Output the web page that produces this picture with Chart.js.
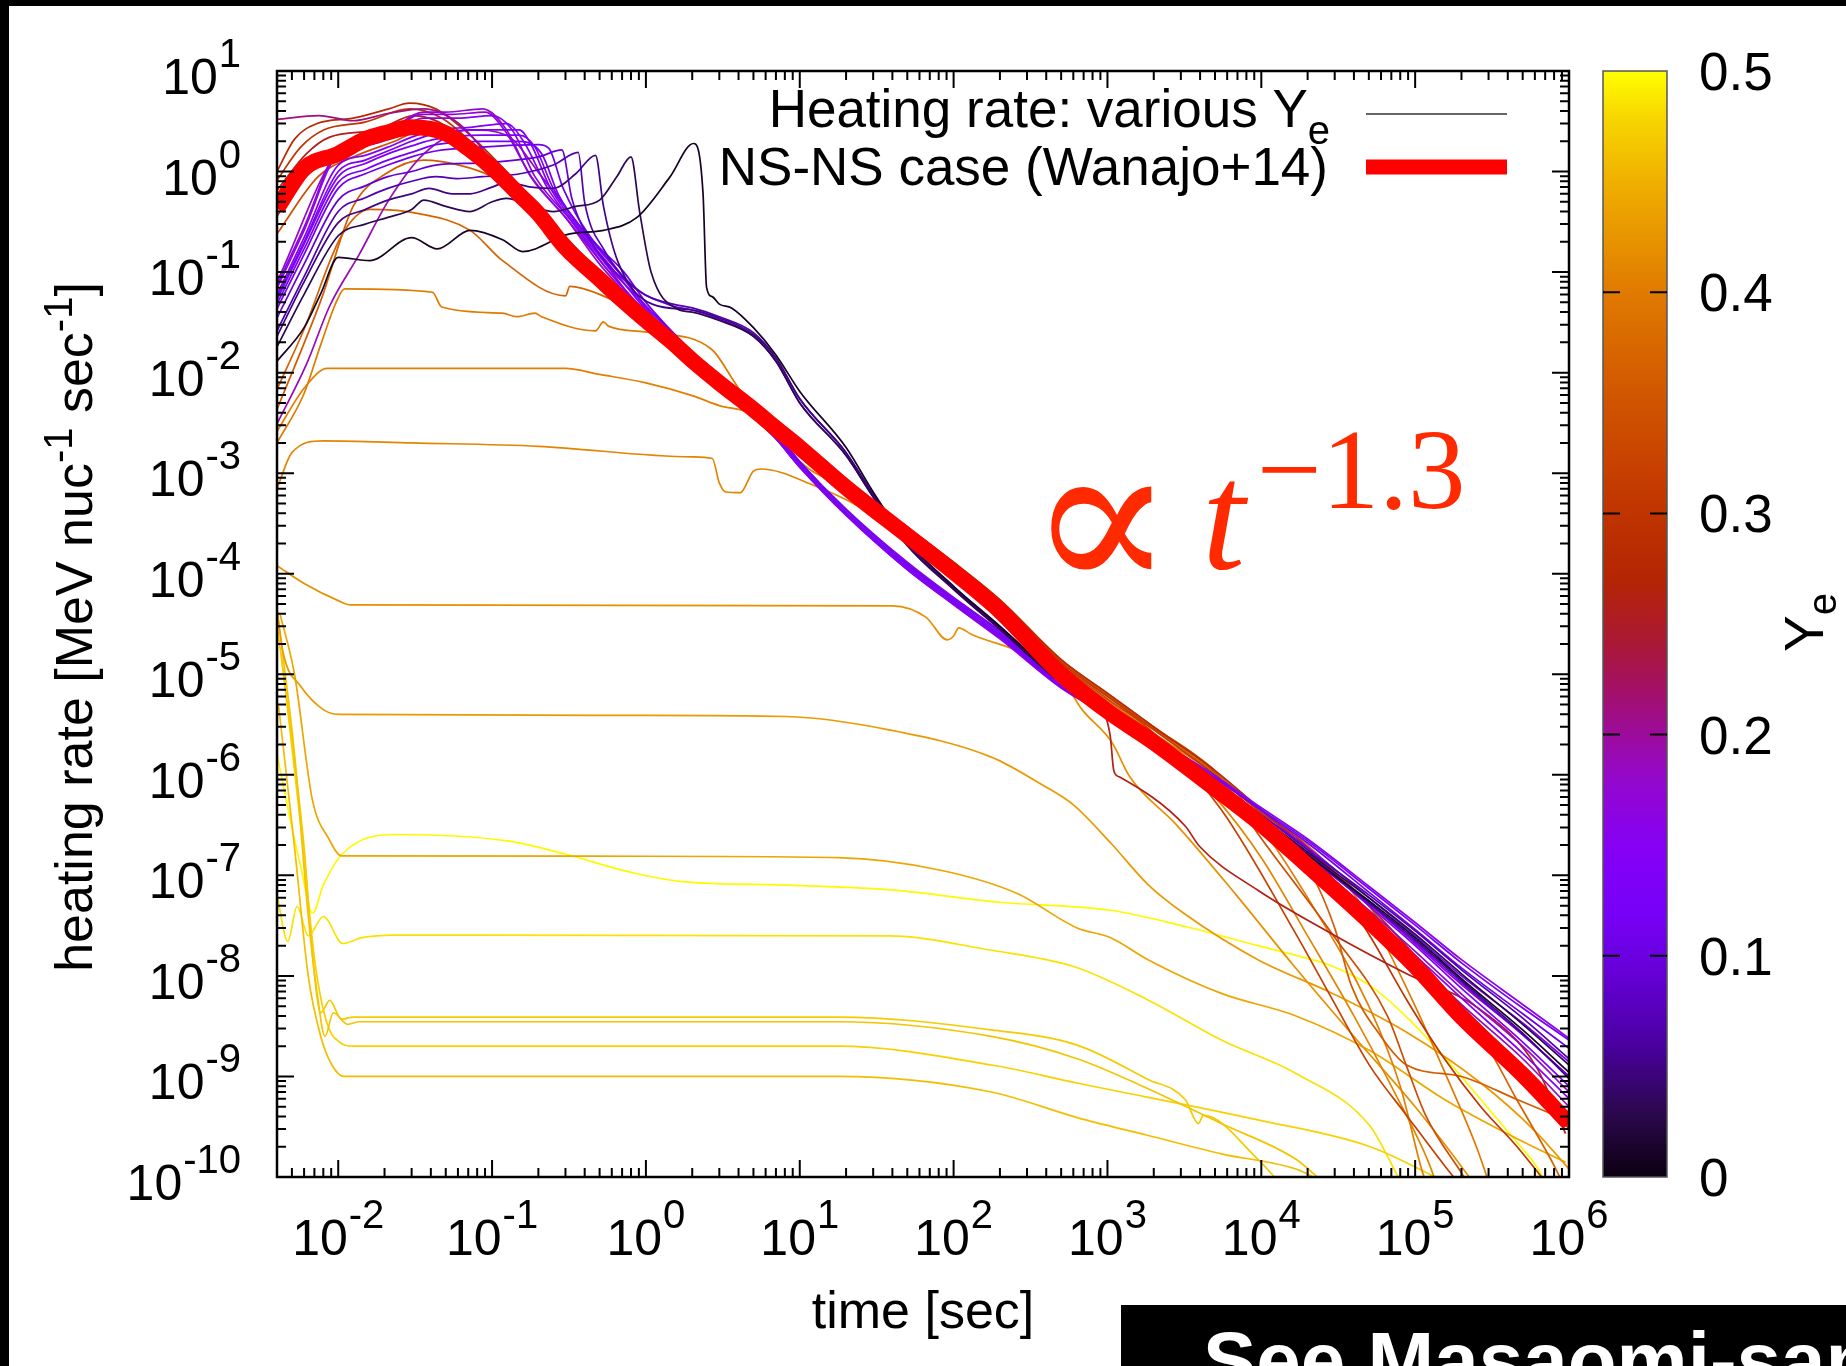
<!DOCTYPE html>
<html><head><meta charset="utf-8">
<script src="https://cdn.jsdelivr.net/npm/chart.js@4.4.1/dist/chart.umd.min.js"></script>
<style>
html,body{margin:0;padding:0;background:#fff;}
body{width:1846px;height:1366px;position:relative;overflow:hidden;}
#wrap{position:absolute;left:0;top:0;width:1846px;height:1366px;}
</style></head>
<body><div id="wrap"><canvas id="c"></canvas></div>
<script>
// ---------------- data (time in s, heating rate in MeV/nuc/s) ----------------
const xTickExps = [-2,-1,0,1,2,3,4,5,6];
const yTickExps = [1,0,-1,-2,-3,-4,-5,-6,-7,-8,-9,-10];
const cbTickValues = [0,0.1,0.2,0.3,0.4,0.5];
const cbTickLabels = ['0','0.1','0.2','0.3','0.4','0.5'];

const nsnsTime = [0.004,0.006,0.01,0.015,0.02,0.03,0.05,0.07,0.1,0.15,0.2,0.3,0.5,0.7,1,1.5,2,3,5,7,10,20,50,100,200,500,1e3,2e3,5e3,1e4,2e4,5e4,1e5,2e5,5e5,1e6];
const nsnsRate = [0.43,1.07,1.5,2.1,2.4,2.75,2.4,1.7,1.09,0.59,0.38,0.175,0.085,0.053,0.033,0.0197,0.0132,7.9e-3,4.3e-3,2.8e-3,1.8e-3,7.2e-4,2.4e-4,1.04e-4,4.25e-5,1.0e-5,4.3e-6,2.1e-6,7.3e-7,3.2e-7,1.25e-7,3.5e-8,1.25e-8,3.9e-9,1.04e-9,3.4e-10];

const curveYe010 = [[0.004,1.3e-2],[0.006,2.8e-2],[0.0077,6.1e-2],[0.01,0.14],[0.016,0.13],[0.03,0.22],[0.044,0.17],[0.072,0.26],[0.117,0.21],[0.158,0.16],[0.32,0.24],[0.53,0.26],[0.875,0.35],[1.43,0.88],[2.04,1.9],[2.35,0.61],[2.48,7e-2],[2.7,5.7e-2],[3,4.8e-2],[3.6,4.4e-2],[5,2.8e-2],[7,1.5e-2],[10,6.5e-3],[20,1.8e-3],[30,6.5e-4],[50,2.1e-4],[100,7.5e-5],[200,3e-5],[500,8.5e-6],[1e3,4.3e-6],[2e3,2.1e-6],[5e3,8e-7],[1e4,3.6e-7],[2e4,1.6e-7],[5e4,5.6e-8],[1e5,2.4e-8],[2e5,9.4e-9],[5e5,2.9e-9],[1e6,1.1e-9]];
const curveYe030 = [[0.004,1.8e-2],[0.006,6e-2],[0.01,0.23],[0.015,0.3],[0.021,0.35],[0.03,0.42],[0.036,0.52],[0.05,0.45],[0.072,0.4],[0.1,0.5],[0.124,0.54],[0.18,0.45],[0.25,0.4],[0.35,0.45],[0.5,0.52],[0.65,0.9],[0.8,1.4],[0.91,0.4],[1.08,0.1],[1.6,4.3e-2],[2,4e-2],[3,3.3e-2],[5,2.3e-2],[7,1.3e-2],[10,5e-3],[20,1.5e-3],[30,5.8e-4],[50,1.9e-4],[100,7e-5],[200,2.8e-5],[500,8.2e-6],[1e3,4.2e-6],[2e3,2.1e-6],[5e3,8.3e-7],[1e4,3.8e-7],[2e4,1.7e-7],[5e4,6e-8],[1e5,2.6e-8],[2e5,1.05e-8],[5e5,3.3e-9],[1e6,1.3e-9]];
const curveYe050 = [[0.004,2.3e-2],[0.006,8e-2],[0.01,0.31],[0.015,0.42],[0.021,0.52],[0.03,0.6],[0.039,0.68],[0.055,0.6],[0.072,0.6],[0.1,0.7],[0.124,0.78],[0.18,0.7],[0.25,0.68],[0.35,0.95],[0.47,1.45],[0.53,0.45],[0.66,0.125],[1.1,4.8e-2],[2,4.2e-2],[3,3.5e-2],[5,2.4e-2],[7,1.4e-2],[10,5.5e-3],[20,1.6e-3],[30,6e-4],[50,2e-4],[100,7.2e-5],[200,2.9e-5],[500,8.5e-6],[1e3,4.3e-6],[2e3,2.1e-6],[5e3,8e-7],[1e4,3.6e-7],[2e4,1.6e-7],[5e4,5.4e-8],[1e5,2.3e-8],[2e5,9e-9],[5e5,2.7e-9],[1e6,9.5e-10]];
const curveYe070 = [[0.004,2.6e-2],[0.006,9e-2],[0.01,0.4],[0.015,0.55],[0.021,0.68],[0.03,0.8],[0.043,0.89],[0.06,0.85],[0.087,0.89],[0.146,0.94],[0.25,1.16],[0.363,1.55],[0.4,0.49],[0.53,0.17],[0.93,6.3e-2],[1.5,4.8e-2],[2,4.4e-2],[3,3.6e-2],[5,2.5e-2],[7,1.4e-2],[10,5.5e-3],[20,1.6e-3],[30,6.2e-4],[50,2.1e-4],[100,7.4e-5],[200,3e-5],[500,8.6e-6],[1e3,4.4e-6],[2e3,2.2e-6],[5e3,8.6e-7],[1e4,4e-7],[2e4,1.8e-7],[5e4,6.4e-8],[1e5,2.8e-8],[2e5,1.15e-8],[5e5,3.8e-9],[1e6,1.5e-9]];
const curveYe090 = [[0.004,3.5e-2],[0.006,0.12],[0.01,0.52],[0.015,0.72],[0.021,0.89],[0.03,1.0],[0.043,1.16],[0.087,1.22],[0.2,1.4],[0.284,1.64],[0.33,0.54],[0.45,0.19],[0.86,6.8e-2],[1.5,4.6e-2],[2,4.2e-2],[3,3.4e-2],[5,2.3e-2],[7,1.3e-2],[10,5e-3],[20,1.5e-3],[30,5.8e-4],[50,2e-4],[100,7e-5],[200,2.8e-5],[500,8.3e-6],[1e3,4.2e-6],[2e3,2.05e-6],[5e3,7.8e-7],[1e4,3.5e-7],[2e4,1.55e-7],[5e4,5.2e-8],[1e5,2.2e-8],[2e5,8.6e-9],[5e5,2.6e-9],[1e6,1e-9]];
const curveYe110 = [[0.004,4.3e-2],[0.006,0.15],[0.01,0.68],[0.015,0.95],[0.021,1.16],[0.03,1.4],[0.043,1.6],[0.087,1.75],[0.2,1.85],[0.234,1.7],[0.29,0.68],[0.43,0.23],[0.72,0.1],[1,5e-2],[1.5,2.5e-2],[2,1.6e-2],[3,8.7e-3],[5,4.1e-3],[7,2.5e-3],[10,1.3e-3],[20,4.3e-4],[50,1.25e-4],[100,5.6e-5],[200,2.6e-5],[500,8.2e-6],[1e3,4.4e-6],[2e3,2.3e-6],[5e3,9.4e-7],[1e4,4.4e-7],[2e4,2.1e-7],[5e4,6.8e-8],[1e5,2.9e-8],[2e5,1.2e-8],[5e5,4.2e-9],[1e6,1.9e-9]];
const curveYe120 = [[0.004,4.8e-2],[0.006,0.17],[0.01,0.78],[0.015,1.05],[0.021,1.3],[0.03,1.55],[0.043,1.85],[0.087,2.0],[0.15,2.0],[0.21,1.5],[0.27,0.59],[0.41,0.24],[0.7,0.09],[1,4.6e-2],[1.5,2.4e-2],[2,1.55e-2],[3,8.4e-3],[5,3.9e-3],[7,2.4e-3],[10,1.25e-3],[20,4.1e-4],[50,1.2e-4],[100,5.4e-5],[200,2.5e-5],[500,8e-6],[1e3,4.3e-6],[2e3,2.2e-6],[5e3,9.2e-7],[1e4,4.5e-7],[2e4,2.2e-7],[5e4,7.4e-8],[1e5,3.2e-8],[2e5,1.35e-8],[5e5,4.8e-9],[1e6,2.3e-9]];
const curveYe130 = [[0.004,5.3e-2],[0.006,0.19],[0.01,0.89],[0.015,1.2],[0.021,1.5],[0.03,1.8],[0.043,2.1],[0.087,2.3],[0.15,2.3],[0.19,1.75],[0.25,0.68],[0.39,0.26],[0.61,0.12],[1,4.4e-2],[1.5,2.3e-2],[2,1.5e-2],[3,8.2e-3],[5,3.8e-3],[7,2.3e-3],[10,1.2e-3],[20,4e-4],[50,1.15e-4],[100,5.2e-5],[200,2.4e-5],[500,7.7e-6],[1e3,4.1e-6],[2e3,2.1e-6],[5e3,8.6e-7],[1e4,4e-7],[2e4,1.9e-7],[5e4,6e-8],[1e5,2.5e-8],[2e5,1e-8],[5e5,3.4e-9],[1e6,1.4e-9]];
const curveYe140 = [[0.004,5.6e-2],[0.006,0.2],[0.01,1.0],[0.015,1.3],[0.021,1.6],[0.03,2.0],[0.043,2.4],[0.08,2.6],[0.15,2.6],[0.178,1.9],[0.24,0.68],[0.37,0.27],[0.6,0.11],[1,4.2e-2],[1.5,2.2e-2],[2,1.45e-2],[3,8e-3],[5,3.7e-3],[7,2.3e-3],[10,1.2e-3],[20,4e-4],[50,1.15e-4],[100,5.2e-5],[200,2.4e-5],[500,7.6e-6],[1e3,4e-6],[2e3,2e-6],[5e3,8e-7],[1e4,3.6e-7],[2e4,1.65e-7],[5e4,5e-8],[1e5,2e-8],[2e5,7.5e-9],[5e5,2.2e-9],[1e6,8e-10]];
const curveYe150 = [[0.004,6e-2],[0.006,0.22],[0.01,1.16],[0.015,1.45],[0.021,1.75],[0.03,2.2],[0.043,2.6],[0.072,2.75],[0.124,3.0],[0.16,2.0],[0.23,0.68],[0.35,0.28],[0.55,0.11],[1,3.9e-2],[1.5,2.1e-2],[2,1.4e-2],[3,7.7e-3],[5,3.6e-3],[7,2.2e-3],[10,1.15e-3],[20,3.9e-4],[50,1.1e-4],[100,5e-5],[200,2.3e-5],[500,7.4e-6],[1e3,3.9e-6],[2e3,1.9e-6],[5e3,7.4e-7],[1e4,3.2e-7],[2e4,1.45e-7],[5e4,4.2e-8],[1e5,1.6e-8],[2e5,6e-9],[5e5,1.7e-9],[1e6,6e-10]];
const curveYe160 = [[0.004,6.9e-2],[0.006,0.26],[0.01,1.5],[0.015,1.8],[0.021,2.1],[0.036,3.4],[0.06,3.4],[0.1,3.6],[0.135,2.6],[0.19,0.89],[0.33,0.32],[0.55,0.12],[1,4.6e-2],[1.5,2.5e-2],[2,1.6e-2],[3,8.8e-3],[5,4.1e-3],[7,2.5e-3],[10,1.3e-3],[20,4.4e-4],[50,1.3e-4],[100,5.8e-5],[200,2.7e-5],[500,8.4e-6],[1e3,4.5e-6],[2e3,2.35e-6],[5e3,9.8e-7],[1e4,4.7e-7],[2e4,2.3e-7],[5e4,7.8e-8],[1e5,3.4e-8],[2e5,1.45e-8],[5e5,5.2e-9],[1e6,2.4e-9]];
const curveYe170 = [[0.004,7.4e-2],[0.006,0.28],[0.01,1.64],[0.015,2.0],[0.021,2.4],[0.035,3.7],[0.055,3.7],[0.09,3.9],[0.12,2.6],[0.18,0.89],[0.31,0.33],[0.55,0.11],[1,4e-2],[1.5,2.15e-2],[2,1.42e-2],[3,7.8e-3],[5,3.7e-3],[7,2.25e-3],[10,1.18e-3],[20,3.9e-4],[50,1.12e-4],[100,5e-5],[200,2.3e-5],[500,7.5e-6],[1e3,4e-6],[2e3,2e-6],[5e3,8.1e-7],[1e4,3.7e-7],[2e4,1.7e-7],[5e4,5.3e-8],[1e5,2.1e-8],[2e5,8.2e-9],[5e5,2.6e-9],[1e6,1e-9]];
const curveYe180 = [[0.004,8e-2],[0.0105,1.75],[0.0213,2.6],[0.036,3.9],[0.05,3.9],[0.087,4.2],[0.124,2.6],[0.178,0.89],[0.3,0.35],[0.5,0.12],[1,3.8e-2],[1.5,2.05e-2],[2,1.38e-2],[3,7.6e-3],[5,3.6e-3],[7,2.2e-3],[10,1.15e-3],[20,3.8e-4],[50,1.1e-4],[100,4.9e-5],[200,2.25e-5],[500,7.3e-6],[1e3,3.9e-6],[2e3,1.95e-6],[5e3,7.6e-7],[1e4,3.3e-7],[2e4,1.5e-7],[5e4,4.5e-8],[1e5,1.75e-8],[2e5,6.6e-9],[5e5,2e-9],[1e6,7e-10]];
const curveYe190 = [[0.004,3.1e-3],[0.0062,1.2e-2],[0.0088,4.6e-2],[0.0137,0.15],[0.0213,0.52],[0.036,1.5],[0.072,2.6],[0.124,2.3],[0.21,0.89],[0.36,0.3],[0.6,0.1],[1,3.7e-2],[1.5,2e-2],[2,1.35e-2],[3,7.5e-3],[5,3.6e-3],[7,2.2e-3],[10,1.15e-3],[20,3.9e-4],[50,1.15e-4],[100,5.2e-5],[200,2.4e-5],[500,7.6e-6],[1e3,4e-6],[2e3,1.95e-6],[5e3,7.3e-7],[1e4,3.1e-7],[2e4,1.35e-7],[5e4,3.9e-8],[1e5,1.45e-8],[2e5,5.2e-9],[5e5,1.5e-9],[1e6,5e-10]];
const curveYe210 = [[0.004,3.3],[0.0075,3.6],[0.0125,3.2],[0.0213,3.8],[0.036,4.2],[0.061,3.0],[0.1,1.3],[0.17,0.59],[0.3,0.2],[0.5,9e-2],[1,3.4e-2],[2,1.4e-2],[5,4.5e-3],[10,1.9e-3],[20,7.5e-4],[50,2.4e-4],[100,1.05e-4],[200,4.4e-5],[500,1.05e-5],[1e3,4.6e-6],[2e3,2.2e-6],[5e3,8e-7],[1e4,3.5e-7],[2e4,1.4e-7],[5e4,3.8e-8],[1e5,1.3e-8],[2e5,4.2e-9],[5e5,1.1e-9],[1e6,3.2e-10]];
const curveYe260 = [[0.004,0.65],[0.0062,1.5],[0.0088,2.2],[0.018,2.6],[0.031,3.6],[0.052,2.75],[0.087,1.3],[0.146,0.68],[0.25,0.3],[0.5,0.1],[1,3.7e-2],[2,1.5e-2],[5,4.8e-3],[10,2e-3],[20,8e-4],[50,2.7e-4],[100,1.2e-4],[200,5e-5],[500,1.2e-5],[800,5.5e-6],[1040,2.5e-6],[1100,1.1e-6],[1200,9.5e-7],[3200,3.1e-7],[3960,1.95e-7],[9500,7.1e-8],[2.9e4,2.6e-8],[8.8e4,1.05e-8],[2.67e5,4.6e-9],[6.1e5,1.26e-9],[9.5e5,2.7e-10]];
const curveYe280 = [[0.004,1.0],[0.0052,2.1],[0.0073,3.0],[0.0125,3.4],[0.0213,4.2],[0.029,4.8],[0.043,4.2],[0.072,2.3],[0.124,1.0],[0.21,0.42],[0.3,0.21],[0.5,0.1],[1,3.7e-2],[2,1.6e-2],[5,5e-3],[10,2.1e-3],[20,8.5e-4],[50,2.9e-4],[100,1.3e-4],[200,5.5e-5],[500,1.4e-5],[1e3,6.5e-6],[2e3,3e-6],[5e3,1.1e-6],[1e4,4.5e-7],[2e4,1.8e-7],[5e4,5e-8],[1e5,1.6e-8],[2e5,5e-9],[5e5,1.2e-9],[1e6,3e-10]];
const curveYe300 = [[0.004,0.82],[0.0057,1.75],[0.0081,2.6],[0.0149,3.1],[0.029,4.2],[0.047,3.4],[0.079,1.75],[0.124,0.89],[0.21,0.37],[0.3,0.2],[0.5,9.5e-2],[1,3.6e-2],[2,1.55e-2],[5,4.8e-3],[10,2.05e-3],[20,8.2e-4],[50,2.8e-4],[100,1.25e-4],[200,5.2e-5],[500,1.3e-5],[1e3,6e-6],[2e3,2.8e-6],[5e3,1e-6],[1e4,4.2e-7],[2e4,1.9e-7],[5e4,2.6e-8],[8.8e4,5.8e-9],[1.55e5,1.5e-9],[2.67e5,5e-10],[4.6e5,2e-10],[7e5,9e-11]];
const curveYe320 = [[0.004,0.36],[0.0067,1.16],[0.0105,1.75],[0.0213,2.3],[0.033,3.1],[0.056,2.3],[0.095,1.16],[0.16,0.52],[0.3,0.19],[0.5,9e-2],[1,3.5e-2],[2,1.5e-2],[5,4.7e-3],[10,2e-3],[20,8e-4],[50,2.7e-4],[100,1.2e-4],[200,5e-5],[500,1.25e-5],[1e3,5.7e-6],[2e3,2.6e-6],[5.5e3,4.5e-7],[1.68e4,2.6e-8],[2.9e4,5.8e-9],[5.1e4,1.26e-9],[8.8e4,4.1e-10],[1.55e5,1.3e-10],[2e5,8e-11]];
const curveYe340 = [[0.004,0.24],[0.0074,0.89],[0.0126,1.4],[0.0233,2.0],[0.036,2.6],[0.061,2.0],[0.1,0.94],[0.18,0.44],[0.3,0.2],[0.5,9.2e-2],[1,3.6e-2],[2,1.55e-2],[5,4.9e-3],[10,2.1e-3],[20,8.4e-4],[50,2.8e-4],[100,1.25e-4],[200,5.3e-5],[500,1.35e-5],[1e3,6.2e-6],[2e3,2.9e-6],[5e3,1.05e-6],[9.5e3,2.6e-7],[2.9e4,2.6e-8],[6.6e4,4e-9],[8.8e4,1.26e-9],[1.17e5,4.1e-10],[2e5,1.1e-10],[2.3e5,8e-11]];
const curveYe360 = [[0.004,4.3e-3],[0.0077,5.2e-2],[0.0125,0.45],[0.0206,0.96],[0.036,1.3],[0.061,1.16],[0.1,0.89],[0.21,0.4],[0.3,0.21],[0.5,0.1],[1,3.8e-2],[2,1.6e-2],[5,5e-3],[10,2.1e-3],[20,8.6e-4],[50,2.9e-4],[100,1.3e-4],[200,5.5e-5],[500,1.4e-5],[1e3,6.4e-6],[2e3,3e-6],[5e3,1.1e-6],[1e4,3.5e-7],[2e4,1.2e-7],[3e4,3e-8],[3.85e4,8e-9],[6e4,2.5e-9],[8.8e4,1.3e-9],[2e5,1e-9],[4.6e5,5.9e-10],[9.5e5,3.7e-10]];
const curveYe370 = [[0.004,6.8e-3],[0.006,2.7e-2],[0.0105,0.23],[0.016,0.42],[0.034,0.38],[0.072,0.26],[0.117,0.13],[0.3,5.8e-2],[0.32,7.2e-2],[0.5,6e-2],[1,3.4e-2],[2,1.5e-2],[5,4.7e-3],[10,2e-3],[20,8.2e-4],[50,2.8e-4],[100,1.25e-4],[200,5.3e-5],[500,1.35e-5],[1e3,6.2e-6],[2e3,2.9e-6],[5e3,1.05e-6],[1e4,4.4e-7],[2e4,1.8e-7],[5e4,5e-8],[1e5,1e-8],[2.67e5,2.5e-9],[4.6e5,5.8e-10],[8e5,1.3e-10],[9e5,9e-11]];
const curveYe400 = [[0.004,2e-3],[0.006,6.2e-3],[0.0077,1.9e-2],[0.0098,5.2e-2],[0.011,6.8e-2],[0.041,6.3e-2],[0.047,4.5e-2],[0.117,3.9e-2],[0.145,3.6e-2],[0.19,3.9e-2],[0.21,3.6e-2],[0.47,2.6e-2],[0.53,3.2e-2],[0.57,2.9e-2],[1.07,2.5e-2],[2.68,1.7e-2],[3.7,8.4e-3],[4.5,5.3e-3],[6.9,2.5e-3],[12,1.2e-3],[20,7.5e-4],[50,2.6e-4],[100,1.15e-4],[200,4.8e-5],[500,1.2e-5],[1e3,5.5e-6],[2e3,2.6e-6],[5e3,1e-6],[1e4,4.2e-7],[2e4,2e-7],[5e4,4e-8],[1e5,5e-9],[1.6e5,1e-9],[2.5e5,2e-10],[3e5,9e-11]];
const curveYe405 = [[0.004,2.6e-3],[0.006,7e-3],[0.0085,1.1e-2],[0.3,1.1e-2],[0.5,9.6e-3],[1,7.9e-3],[2,5.9e-3],[3,4.7e-3],[5,3.8e-3],[8,1.8e-3],[12,1.05e-3],[20,7.3e-4],[50,2.5e-4],[100,1.1e-4],[200,4.6e-5],[500,1.15e-5],[1e3,5.2e-6],[2e3,2.5e-6],[5e3,1e-6],[1e4,3e-7],[2e4,6e-8],[5e4,5e-9],[8e4,8e-10],[1.1e5,1.2e-10],[1.2e5,8e-11]];
const curveYe410 = [[0.004,7e-4],[0.005,1.6e-3],[0.008,2.1e-3],[0.03,2e-3],[0.2,1.85e-3],[2,1.45e-3],[2.7,1.4e-3],[3.0,8e-4],[3.3,6.5e-4],[4.1,6.4e-4],[5.0,1.05e-3],[5.6,1.1e-3],[12.7,7.4e-4],[24,4.7e-4],[50,2.3e-4],[100,1e-4],[200,4.4e-5],[500,1.1e-5],[1e3,5e-6],[2e3,2.3e-6],[5e3,6e-7],[1e4,1.5e-7],[2e4,2.5e-8],[4e4,4e-9],[7e4,8e-10],[1.2e5,1.5e-10],[1.4e5,8e-11]];
const curveYe420 = [[0.004,1.2e-4],[0.006,8e-5],[0.01,5.4e-5],[0.012,4.9e-5],[40,4.8e-5],[66,3.7e-5],[91,2.2e-5],[100,2.4e-5],[108,2.9e-5],[130,2.5e-5],[314,1.5e-5],[525,8.2e-6],[680,4.5e-6],[1070,2.1e-6],[1400,9.5e-7],[2800,3.2e-7],[6860,6.4e-8],[1.6e4,1.3e-8],[4e4,2.5e-9],[1e5,5e-10],[1.6e5,2e-10],[2.5e5,8e-11]];
const curveYe430 = [[0.004,4.4e-5],[0.0044,1.6e-5],[0.0057,7.6e-6],[0.0081,4.4e-6],[0.01,4e-6],[1,3.9e-6],[8.2,3.8e-6],[38,2.8e-6],[176,1.5e-6],[374,8e-7],[603,5e-7],[1050,2.1e-7],[1820,8.2e-8],[3200,4.1e-8],[9500,1.45e-8],[2.9e4,6.7e-9],[8.8e4,2.75e-9],[2.67e5,8.6e-10],[6.1e5,2.8e-10],[1e6,1.2e-10]];
const curveYe440 = [[0.0042,3.9e-5],[0.0052,1e-5],[0.0068,5.6e-7],[0.0087,2.3e-7],[0.0105,1.56e-7],[1,1.55e-7],[17.8,1.5e-7],[81,1.13e-7],[259,6.6e-8],[635,3e-8],[1050,2.4e-8],[1820,1.46e-8],[5500,6.7e-9],[1.68e4,4e-9],[5.1e4,1.8e-9],[1.55e5,5.9e-10],[4.6e5,2.4e-10],[9.5e5,1.4e-10]];
const curveYe460 = [[0.0041,4.8e-6],[0.0052,1.9e-7],[0.0064,9.7e-9],[0.0077,2.5e-9],[0.0091,1.3e-9],[0.0109,1e-9],[0.0125,1e-9],[17.8,1e-9],[176,7e-10],[635,3.9e-10],[1820,2.6e-10],[5500,1.7e-10],[1.68e4,1.2e-10],[2.5e4,9e-11]];
const curveYe465 = [[0.004,4.4e-5],[0.0052,1.6e-6],[0.0064,3.8e-8],[0.0074,5.7e-9],[0.0082,2.5e-9],[0.0093,4.3e-9],[0.0115,3.3e-9],[0.0137,3.5e-9],[17.8,3.5e-9],[176,2.5e-9],[635,1.5e-9],[1820,7.6e-10],[5500,3.4e-10],[1.68e4,1.5e-10],[2.5e4,9e-11]];
const curveYe470 = [[0.004,3.1e-5],[0.0047,4.8e-6],[0.006,1.9e-7],[0.0069,1.28e-8],[0.0077,4.3e-9],[0.0088,5.7e-9],[0.0105,3.7e-9],[0.0125,3.9e-9],[17.8,3.9e-9],[176,2.9e-9],[635,2.05e-9],[1820,9.4e-10],[3200,5.9e-10],[3900,3.4e-10],[4200,4.1e-10],[9500,1.5e-10],[1.3e4,9e-11]];
const curveYe475 = [[0.0043,1.4e-5],[0.0057,3.2e-7],[0.0071,1.28e-8],[0.0085,3.3e-9],[0.0102,2.2e-9],[0.0125,2e-9],[17.8,2e-9],[176,1.3e-9],[635,8.6e-10],[9500,3.7e-10],[5.1e4,2e-10],[1.55e5,9e-11]];
const curveYe485 = [[0.004,6.4e-8],[0.0047,2.2e-8],[0.0054,4.9e-8],[0.0064,2.5e-8],[0.008,3.9e-8],[0.0107,2.1e-8],[0.0142,2.4e-8],[0.0233,2.55e-8],[38,2.5e-8],[176,1.8e-8],[603,1.24e-8],[1820,5.8e-9],[5500,2.3e-9],[1.68e4,1.07e-9],[5.1e4,3.2e-10],[7.1e4,1.3e-10],[8e4,9e-11]];
const curveYe497 = [[0.004,1.6e-6],[0.0051,2.6e-7],[0.0057,1.23e-7],[0.0068,4.2e-8],[0.008,8e-8],[0.0107,1.65e-7],[0.0233,2.55e-7],[0.126,2.2e-7],[0.289,1.65e-7],[0.845,1.05e-7],[1.8,8.6e-8],[8.3,8e-8],[38,7.2e-8],[199,5.4e-8],[1050,4.5e-8],[3200,3.1e-8],[9500,2e-8],[1.68e4,1.6e-8],[2.9e4,1.25e-8],[5.1e4,8e-9],[8.8e4,3.9e-9],[1.55e5,1.56e-9],[2.67e5,5.9e-10],[4.6e5,2.2e-10],[6.1e5,1.3e-10],[7e5,9e-11]];

const yeValues = [0.01,0.03,0.05,0.07,0.09,0.11,0.12,0.13,0.14,0.15,0.16,0.17,0.18,0.19,0.21,0.26,0.28,0.30,0.32,0.34,0.36,0.37,0.40,0.405,0.41,0.42,0.43,0.44,0.46,0.465,0.47,0.475,0.485,0.497];
const yeCurves = [curveYe010,curveYe030,curveYe050,curveYe070,curveYe090,curveYe110,curveYe120,curveYe130,curveYe140,curveYe150,curveYe160,curveYe170,curveYe180,curveYe190,curveYe210,curveYe260,curveYe280,curveYe300,curveYe320,curveYe340,curveYe360,curveYe370,curveYe400,curveYe405,curveYe410,curveYe420,curveYe430,curveYe440,curveYe460,curveYe465,curveYe470,curveYe475,curveYe485,curveYe497];

// colour palette of the Ye colour bar
const paletteYe  = [0.00,0.03,0.06,0.09,0.12,0.15,0.18,0.20,0.22,0.24,0.27,0.30,0.35,0.40,0.45,0.48,0.50];
const paletteHex = ['#0c0010','#2c0850','#4a00a0','#6400d4','#7800f8','#8600f4','#9408cc','#9c0c9c','#a41068','#aa1838','#b42404','#c03400','#d05400','#e07a00','#f0b000','#f8d800','#ffff00'];

// ---------------- helpers ----------------
function hexRgb(h){return [parseInt(h.slice(1,3),16),parseInt(h.slice(3,5),16),parseInt(h.slice(5,7),16)];}
function yeColor(ye){
  for(let i=0;i<paletteYe.length-1;i++){
    if(ye<=paletteYe[i+1]){
      const f=(ye-paletteYe[i])/(paletteYe[i+1]-paletteYe[i]);
      const a=hexRgb(paletteHex[i]), b=hexRgb(paletteHex[i+1]);
      return 'rgb('+a.map((v,k)=>Math.round(v+(b[k]-v)*f)).join(',')+')';
    }
  }
  return paletteHex[paletteHex.length-1];
}
const toPts = arr => arr.map(p => ({x:p[0], y:p[1]}));

const datasets = [{
  label:'NS-NS case (Wanajo+14)',
  data: toPts(nsnsTime.map((t,i)=>[t,nsnsRate[i]])),
  borderColor:'#ff0000', borderWidth:16, pointRadius:0,
  tension:0.4, cubicInterpolationMode:'monotone', borderJoinStyle:'round'
}];
yeCurves.forEach((c,i)=>{
  datasets.push({
    label:'Ye='+yeValues[i], data: toPts(c),
    borderColor: yeColor(yeValues[i]), borderWidth:1.7, pointRadius:0,
    tension:0.4, cubicInterpolationMode:'monotone'
  });
});

const F = '"Liberation Sans", Arial, Helvetica, sans-serif';
const SERIF = '"Liberation Serif", "DejaVu Serif", serif';

function powWidth(ctx, exp){
  ctx.font = '50px '+F; const w1 = ctx.measureText('10').width;
  ctx.font = '40px '+F; return w1 + 1 + ctx.measureText(exp).width;
}
function drawPow(ctx, exp, xl, base){
  ctx.textAlign='left';
  ctx.font = '50px '+F; ctx.fillText('10', xl, base);
  const w1 = ctx.measureText('10').width;
  ctx.font = '40px '+F; ctx.fillText(exp, xl + w1 + 1, base - 27);
}
// draw text so that its ink box starts at inkLeft and ends at inkBottom
function drawInk(ctx, text, font, inkLeft, inkBottom){
  ctx.font = font; const m = ctx.measureText(text);
  ctx.fillText(text, inkLeft + m.actualBoundingBoxLeft, inkBottom - m.actualBoundingBoxDescent);
}

const decor = {
  id:'decor',
  beforeDraw(chart){
    const ctx=chart.ctx; ctx.save(); ctx.fillStyle='#fff'; ctx.fillRect(0,0,chart.width,chart.height); ctx.restore();
  },
  afterDatasetsDraw(chart){
    const {ctx, chartArea:a, scales:{x,y}} = chart;
    ctx.save();
    ctx.fillStyle='#000'; ctx.strokeStyle='#000';
    // minor / major ticks (inward, mirrored)
    ctx.lineWidth=2; ctx.beginPath();
    for(let e=-3;e<=6;e++) for(let m=1;m<=9;m++){
      const v=m*Math.pow(10,e);
      if(v<0.004*0.9999||v>1e6*1.0001) continue;
      const px=x.getPixelForValue(v); const len=(m===1)?17:9;
      ctx.moveTo(px,a.bottom); ctx.lineTo(px,a.bottom-len);
      ctx.moveTo(px,a.top); ctx.lineTo(px,a.top+len);
    }
    for(let e=-10;e<=1;e++) for(let m=1;m<=9;m++){
      const v=m*Math.pow(10,e);
      if(v>10.0001) continue;
      const py=y.getPixelForValue(v); const len=(m===1)?17:9;
      ctx.moveTo(a.left,py); ctx.lineTo(a.left+len,py);
      ctx.moveTo(a.right,py); ctx.lineTo(a.right-len,py);
    }
    ctx.stroke();
    ctx.lineWidth=2.5; ctx.strokeRect(a.left,a.top,a.right-a.left,a.bottom-a.top);

    // tick labels
    xTickExps.forEach(e=>{
      const px=x.getPixelForValue(Math.pow(10,e)); const s=String(e);
      const w=powWidth(ctx,s); drawPow(ctx,s,px-w/2,1255);
    });
    yTickExps.forEach(e=>{
      const py=y.getPixelForValue(Math.pow(10,e)); const s=String(e);
      const w=powWidth(ctx,s); drawPow(ctx,s,241-w,py+23);
    });

    // axis titles
    ctx.font='52px '+F; ctx.textAlign='center';
    ctx.fillText('time [sec]',(a.left+a.right)/2,1328);
    const segs=[['heating rate [MeV nuc',52,0],['-1',40,-20],[' sec',52,0],['-1',40,-20],[']',52,0]];
    let tw=0; segs.forEach(s=>{ctx.font=s[1]+'px '+F; s.w=ctx.measureText(s[0]).width; tw+=s.w;});
    ctx.save(); ctx.translate(92,(a.top+a.bottom)/2+3); ctx.rotate(-Math.PI/2); ctx.textAlign='left';
    let cx=-tw/2; segs.forEach(s=>{ctx.font=s[1]+'px '+F; ctx.fillText(s[0],cx,s[2]); cx+=s.w;});
    ctx.restore();

    // legend
    ctx.textAlign='left';
    const t1='Heating rate: various Y';
    ctx.font='40px '+F; const we=ctx.measureText('e').width;
    ctx.font='53px '+F; const w1=ctx.measureText(t1).width;
    ctx.fillText(t1,1330-we-w1,127);
    ctx.font='40px '+F; ctx.fillText('e',1330-we,144);
    ctx.font='53px '+F; ctx.textAlign='right'; ctx.fillText('NS-NS case (Wanajo+14)',1328,185);
    ctx.strokeStyle='#333'; ctx.lineWidth=1.6; ctx.beginPath(); ctx.moveTo(1366,114); ctx.lineTo(1507,114); ctx.stroke();
    ctx.strokeStyle='#ff0000'; ctx.lineWidth=15; ctx.beginPath(); ctx.moveTo(1366,167); ctx.lineTo(1507,167); ctx.stroke();

    // annotation  ∝ t^-1.3
    ctx.fillStyle='#ff2a00'; ctx.textAlign='left';
    ctx.font='100px '+SERIF;
    const pm=ctx.measureText('\u221D');
    const pw=(pm.actualBoundingBoxLeft+pm.actualBoundingBoxRight)||60;
    const psize=Math.round(100*102/pw);
    drawInk(ctx,'\u221D',psize+'px '+SERIF,1051,570);
    drawInk(ctx,'t','italic 155px '+SERIF,1208,570);
    drawInk(ctx,'\u22121.3','115px '+SERIF,1262,510);

    // colour bar
    const cbL=1603, cbR=1667, cbT=a.top, cbB=a.bottom;
    const yeY = v => cbB - (v/0.5)*(cbB-cbT);
    const grad=ctx.createLinearGradient(0,cbB,0,cbT);
    paletteYe.forEach((s,i)=>grad.addColorStop(s/0.5,paletteHex[i]));
    ctx.fillStyle=grad; ctx.fillRect(cbL,cbT,cbR-cbL,cbB-cbT);
    ctx.strokeStyle='#555'; ctx.lineWidth=1.5; ctx.strokeRect(cbL,cbT,cbR-cbL,cbB-cbT);
    ctx.strokeStyle='#000'; ctx.lineWidth=2; ctx.beginPath();
    cbTickValues.forEach(v=>{ if(v<=0||v>=0.5) return; const py=yeY(v);
      ctx.moveTo(cbL,py); ctx.lineTo(cbL+17,py); ctx.moveTo(cbR,py); ctx.lineTo(cbR-17,py); });
    ctx.stroke();
    ctx.fillStyle='#000'; ctx.font='53px '+F; ctx.textAlign='left';
    cbTickValues.forEach((v,i)=>ctx.fillText(cbTickLabels[i],1699,yeY(v)+19));
    // colour bar title Y_e
    ctx.save(); ctx.translate(1823,652); ctx.rotate(-Math.PI/2);
    ctx.font='55px '+F; ctx.fillText('Y',0,0); const wy=ctx.measureText('Y').width;
    ctx.font='40px '+F; ctx.fillText('e',wy,13);
    ctx.restore();

    // black slide frame pieces and note box
    ctx.fillStyle='#000';
    ctx.fillRect(0,0,chart.width,6);
    ctx.fillRect(0,0,9,chart.height);
    ctx.fillRect(1121,1305,chart.width-1121,chart.height-1305);
    ctx.fillStyle='#fff'; ctx.font='bold 80px '+F; ctx.textAlign='left';
    ctx.fillText("See Masaomi-san's talk",1203,1388);
    ctx.restore();
  }
};

new Chart(document.getElementById('c'),{
  type:'line',
  data:{datasets},
  options:{
    responsive:true, maintainAspectRatio:false, animation:false, events:[],
    layout:{padding:{left:277,top:71,right:277,bottom:189}},
    scales:{
      x:{type:'logarithmic',min:0.004,max:1e6,display:false},
      y:{type:'logarithmic',min:1e-10,max:10,display:false}
    },
    plugins:{legend:{display:false},tooltip:{enabled:false}},
    elements:{point:{radius:0}}
  },
  plugins:[decor]
});
</script>
</body></html>
